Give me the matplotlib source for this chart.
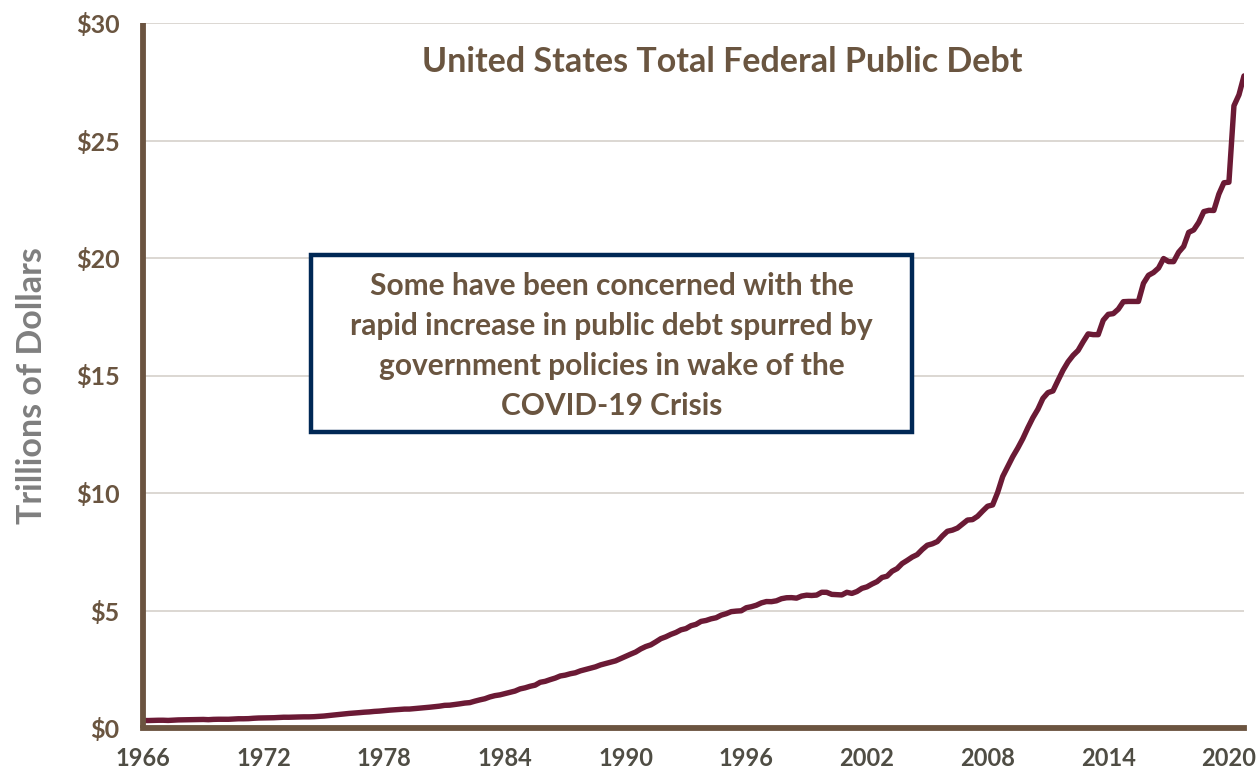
import matplotlib
matplotlib.use("Agg")
import matplotlib.pyplot as plt
import numpy as np
from matplotlib.patches import Rectangle

# Quarterly total federal public debt, trillions of dollars (1966Q1 - 2020Q4)
start_year = 1966
debt = [
    0.321, 0.317, 0.324, 0.329,   # 1966
    0.330, 0.322, 0.335, 0.344,   # 1967
    0.348, 0.348, 0.358, 0.363,   # 1968
    0.364, 0.354, 0.367, 0.372,   # 1969
    0.371, 0.371, 0.383, 0.393,   # 1970
    0.393, 0.398, 0.414, 0.425,   # 1971
    0.428, 0.427, 0.437, 0.448,   # 1972
    0.458, 0.457, 0.465, 0.469,   # 1973
    0.474, 0.474, 0.481, 0.493,   # 1974
    0.509, 0.533, 0.554, 0.576,   # 1975
    0.599, 0.620, 0.635, 0.653,   # 1976
    0.672, 0.685, 0.706, 0.719,   # 1977
    0.740, 0.759, 0.772, 0.789,   # 1978
    0.805, 0.806, 0.827, 0.845,   # 1979
    0.863, 0.884, 0.908, 0.930,   # 1980
    0.964, 0.971, 0.998, 1.028,   # 1981
    1.061, 1.080, 1.142, 1.197,   # 1982
    1.245, 1.322, 1.377, 1.410,   # 1983
    1.464, 1.518, 1.572, 1.663,   # 1984
    1.710, 1.775, 1.823, 1.945,   # 1985
    1.986, 2.059, 2.125, 2.214,   # 1986
    2.250, 2.309, 2.350, 2.431,   # 1987
    2.487, 2.547, 2.602, 2.684,   # 1988
    2.741, 2.799, 2.857, 2.953,   # 1989
    3.053, 3.143, 3.233, 3.364,   # 1990
    3.466, 3.538, 3.665, 3.801,   # 1991
    3.881, 3.984, 4.065, 4.177,   # 1992
    4.230, 4.352, 4.411, 4.536,   # 1993
    4.576, 4.646, 4.692, 4.801,   # 1994
    4.864, 4.951, 4.974, 4.988,   # 1995
    5.118, 5.161, 5.224, 5.323,   # 1996
    5.381, 5.376, 5.413, 5.502,   # 1997
    5.542, 5.548, 5.526, 5.614,   # 1998
    5.652, 5.639, 5.656, 5.776,   # 1999
    5.773, 5.686, 5.674, 5.662,   # 2000
    5.774, 5.727, 5.807, 5.943,   # 2001
    6.006, 6.126, 6.228, 6.405,   # 2002
    6.460, 6.670, 6.783, 6.998,   # 2003
    7.131, 7.274, 7.379, 7.596,   # 2004
    7.777, 7.837, 7.933, 8.170,   # 2005
    8.371, 8.420, 8.507, 8.680,   # 2006
    8.849, 8.868, 9.008, 9.229,   # 2007
    9.437, 9.492, 10.025, 10.700, # 2008
    11.127, 11.545, 11.910, 12.311, # 2009
    12.773, 13.202, 13.562, 14.025, # 2010
    14.270, 14.343, 14.790, 15.223, # 2011
    15.582, 15.856, 16.066, 16.433, # 2012
    16.771, 16.739, 16.738, 17.352, # 2013
    17.602, 17.633, 17.824, 18.141, # 2014
    18.152, 18.152, 18.151, 18.922, # 2015
    19.264, 19.382, 19.573, 19.977, # 2016
    19.847, 19.845, 20.245, 20.493, # 2017
    21.090, 21.195, 21.516, 21.974, # 2018
    22.028, 22.023, 22.719, 23.201, # 2019
    23.225, 26.477, 26.945, 27.748, # 2020
]
years = start_year + np.arange(len(debt)) / 4.0

x_ticks = [1966, 1972, 1978, 1984, 1990, 1996, 2002, 2008, 2014, 2020]
y_ticks = [0, 5, 10, 15, 20, 25, 30]
y_tick_labels = ["$0", "$5", "$10", "$15", "$20", "$25", "$30"]

title = "United States Total Federal Public Debt"
y_label = "Trillions of Dollars"
note = ("Some have been concerned with the\n"
        "rapid increase in public debt spurred by\n"
        "government policies in wake of the\n"
        "COVID-19 Crisis")

FONT = ["Lato", "DejaVu Sans"]
plt.rcParams["font.family"] = FONT

BROWN = "#6a5540"
SPINE = "#6b5440"
LINE = "#6b1a35"
NAVY = "#002855"
GRAY = "#7f7f7f"
XTICK = "#4f4d44"

W, H = 1257, 781
fig = plt.figure(figsize=(W / 100, H / 100), dpi=100)
ax = fig.add_axes([143 / W, (H - 728) / H, (1244 - 143) / W, (728 - 23) / H])

ax.plot(years, debt, color=LINE, lw=3.9, solid_capstyle="round", zorder=3)

ax.set_xlim(1966, 2020.75)
ax.set_ylim(0, 30)
ax.set_xticks(x_ticks)
ax.set_xticklabels([str(t) for t in x_ticks])
ax.set_yticks(y_ticks)
ax.set_yticklabels(y_tick_labels)

for v in y_ticks[1:]:
    ax.axhline(v, color="#dcd7d2", lw=1.4, zorder=1)

for s in ["top", "right"]:
    ax.spines[s].set_visible(False)
for s in ["left", "bottom"]:
    ax.spines[s].set_color(SPINE)
    ax.spines[s].set_linewidth(4.2)
    ax.spines[s].set_zorder(4)
ax.spines["left"].set_capstyle("butt")

ax.tick_params(axis="both", length=0)
ax.tick_params(axis="y", pad=17, labelsize=18, labelcolor=BROWN)
ax.tick_params(axis="x", pad=14, labelsize=17, labelcolor=XTICK)
for lbl in ax.get_xticklabels() + ax.get_yticklabels():
    lbl.set_fontweight("bold")

fig.text(32 / W, 1 - 386 / H, y_label, rotation=90, ha="center", va="center",
         fontsize=24.5, fontweight="bold", color=GRAY)

fig.text(722 / W, 1 - 62 / H, title, ha="center", va="center",
         fontsize=24.5, fontweight="bold", color=BROWN)

# annotation box
rect = Rectangle((311 / W, 1 - 432 / H), (912 - 311) / W, (432 - 255) / H,
                 transform=fig.transFigure, fill=True, facecolor="white",
                 edgecolor=NAVY, lw=3.2, zorder=5)
fig.patches.append(rect)
fig.text(611.5 / W, 1 - 346 / H, note, ha="center", va="center",
         fontsize=21.5, fontweight="bold", color=BROWN, linespacing=1.52,
         zorder=6)

fig.savefig("out.png", dpi=100, facecolor="white")
